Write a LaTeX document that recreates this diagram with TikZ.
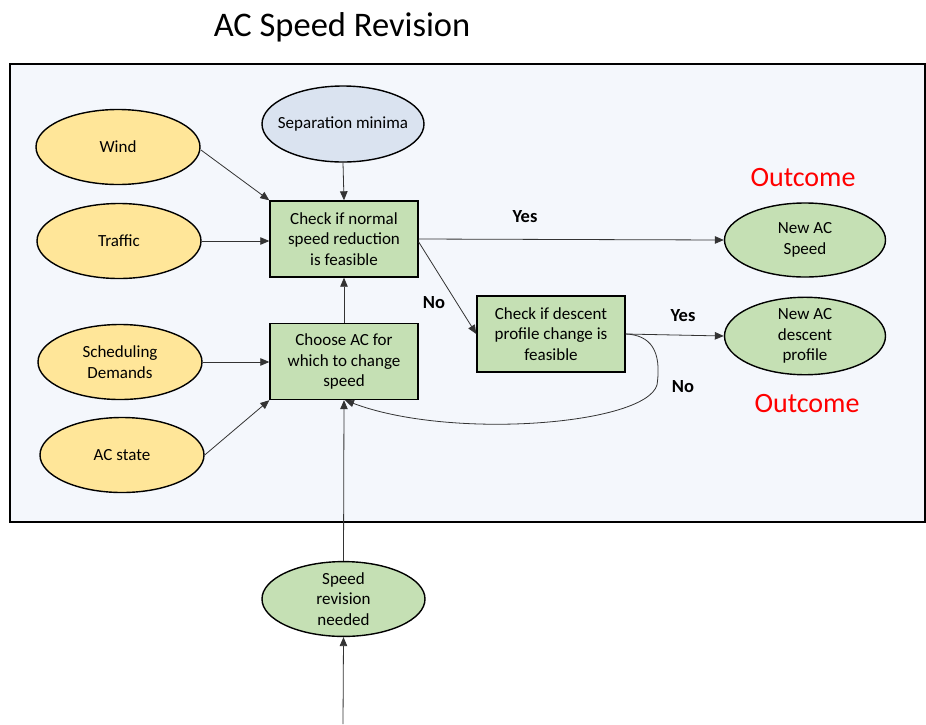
\documentclass[tikz,border=0pt]{standalone}
\usepackage{fontspec}
\setmainfont{Carlito}
\usetikzlibrary{shapes.geometric,arrows.meta}
\definecolor{framebg}{HTML}{F4F7FC}
\definecolor{yellowfill}{HTML}{FFE699}
\definecolor{bluefill}{HTML}{DAE3F0}
\definecolor{greenfill}{HTML}{C5E0B4}
\definecolor{linegray}{HTML}{333333}
\definecolor{outred}{HTML}{FF0000}
\tikzset{
  inell/.style={ellipse, draw=black, line width=1.4pt, fill=yellowfill, minimum width=164pt, minimum height=75pt, inner sep=0pt, font=\fontsize{17}{20.5}\selectfont, align=center},
  sepell/.style={inell, fill=bluefill, minimum width=162pt, minimum height=76pt, inner xsep=-11pt},
  outell/.style={inell, fill=greenfill, minimum width=161pt, minimum height=74pt},
  procbox/.style={rectangle, draw=black, line width=1.4pt, fill=greenfill, minimum width=148pt, minimum height=76pt, inner sep=0pt, font=\fontsize{17}{20.5}\selectfont, align=center},
  conn/.style={draw=linegray, line width=0.8pt, -{Triangle[length=9pt,width=7.5pt]}},
  lbl/.style={font=\fontsize{18.5}{20}\selectfont\bfseries},
  outlbl/.style={font=\fontsize{28}{32}\selectfont, text=outred}
}
\begin{document}
\begin{tikzpicture}[x=1pt,y=-1pt]
\useasboundingbox (0,0) rectangle (926,724);
\node[font=\fontsize{34.5}{38}\selectfont] (title) at (342,27) {AC Speed Revision};
\draw[line width=1.6pt, fill=framebg] (10,64) rectangle (925,522);

\node[sepell] (sep) at (343,124) {Separation minima};
\node[inell] (wind) at (118,147) {Wind};
\node[inell] (traffic) at (119,241) {Traffic};
\node[inell] (sched) at (120,362) {Scheduling\\Demands};
\node[inell] (acstate) at (122,455) {AC state};

\node[procbox] (check1) at (344,239) {Check if normal\\speed reduction\\is feasible};
\node[procbox] (choose) at (344,361.5) {Choose AC for\\which to change\\speed};
\node[procbox] (check2) at (551,334) {Check if descent\\profile change is\\feasible};

\node[outell] (newspeed) at (805,240) {New AC\\Speed};
\node[outell] (newprof) at (805,336) {New AC\\descent\\profile};
\node[outell, minimum width=163pt] (need) at (343.5,599) {Speed\\revision\\needed};

\node[outlbl] (out1) at (803,178) {Outcome};
\node[outlbl] (out2) at (807,404) {Outcome};

\coordinate (bottom) at (343,724);

\draw[conn] (201,150) -- (check1.north west);
\draw[conn] (traffic.east) -- (check1.west |- traffic.east);
\draw[conn] (sep.south) -- (check1.north);
\draw[conn] (choose.north) -- (check1.south);
\draw[conn] (sched.east) -- (choose.west |- sched.east);
\draw[conn] (acstate.east) -- (choose.south west);
\draw[conn] (check1.east) -- (newspeed.west);
\draw[conn] ([yshift=-3pt]check1.east) -- (check2.west);
\draw[conn] (check2.east) -- (newprof.west);
\draw[conn] (check2.east) .. controls (650,335) and (662,350) .. (657,385)
  .. controls (645,425) and (450,440) .. ([xshift=1pt]choose.south);
\draw[conn] (need.north) -- (choose.south);
\draw[conn] (bottom) -- (need.south);

\node[lbl] (yes1) at (525,217) {Yes};
\node[lbl] (no1) at (434,303) {No};
\node[lbl] (yes2) at (683,316) {Yes};
\node[lbl] (no2) at (683,387) {No};
\end{tikzpicture}
\end{document}
